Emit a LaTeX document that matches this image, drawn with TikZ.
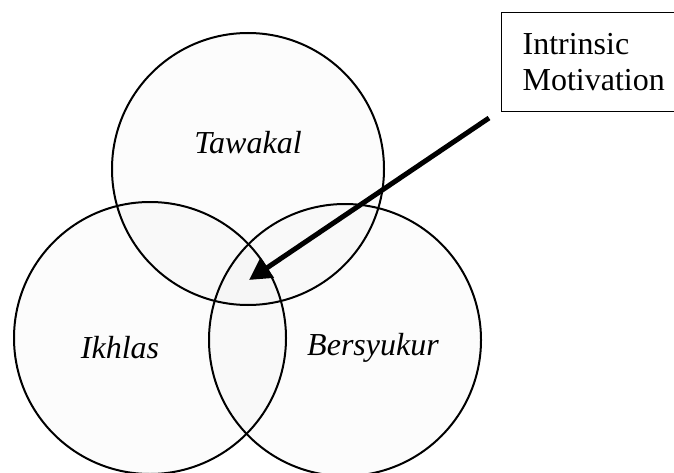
\documentclass[tikz,border=0pt]{standalone}
\usepackage{fontspec}
\setmainfont{Liberation Serif}
\usetikzlibrary{arrows.meta}

\tikzset{
  ring/.style={circle,draw=black,line width=2pt,minimum size=272pt,inner sep=0pt,
    fill=black,fill opacity=0.012},
  ->/.style={draw=black,line width=5pt,-{Triangle[length=22pt,width=23pt]}}
}
\tikzstyle{every node}=[font=\fontsize{32}{36.6}\selectfont]

\begin{document}
\begin{tikzpicture}[x=1pt,y=-1pt]
    \useasboundingbox (0,0) rectangle (674,473);
    % the three circles
    \node[ring] (tawakal) at (248,169) {};
    \node[ring] (ikhlas) at (150,338) {};
    \node[ring] (bersyukur) at (345,340) {};
    \node[font=\fontsize{32}{36.6}\selectfont\itshape] (tawakaltext) at (248,143) {Tawakal};
    \node[font=\fontsize{32}{36.6}\selectfont\itshape] (ikhlastext) at (120,348) {Ikhlas};
    \node[font=\fontsize{32}{36.6}\selectfont\itshape] (bersyukurtext) at (373,348) {Bersyukur};
    % label box
    \node[draw,line width=1.2pt,anchor=north west,text width=170pt,inner xsep=21pt,
      minimum height=99pt,align=left] (motive) at (501,12) {Intrinsic\\Motivation};
    \coordinate (tail) at (489,118);
    \coordinate (tip) at (249,280);
    \draw[->] (tail) -- (tip);
\end{tikzpicture}
\end{document}
